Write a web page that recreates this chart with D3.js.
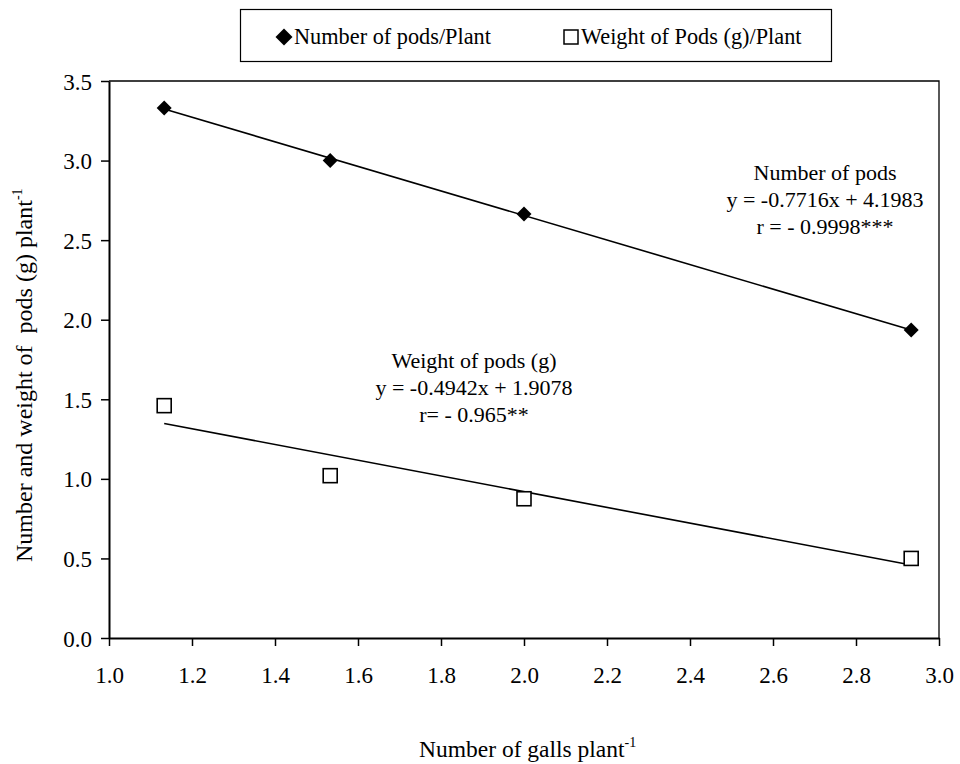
<!DOCTYPE html>
<html>
<head>
<meta charset="utf-8">
<script src="https://cdn.jsdelivr.net/npm/d3@7"></script>
<style>
  body { margin: 0; background: #fff; }
  svg text { font-family: 'Liberation Serif', 'Times New Roman', Times, serif; }
</style>
</head>
<body>
<svg id="chart" width="960" height="764"></svg>
<script>
// Dades
const galls = [1.133, 1.533, 2.0, 2.933];
const podsNumber = [3.33, 3.0, 2.665, 1.935];
const podsWeight = [1.46, 1.02, 0.875, 0.50];
const xTicks = [1.0, 1.2, 1.4, 1.6, 1.8, 2.0, 2.2, 2.4, 2.6, 2.8, 3.0];
const yTicks = [0.0, 0.5, 1.0, 1.5, 2.0, 2.5, 3.0, 3.5];
const fitNumber = [-0.7716, 4.1983];
const fitWeight = [-0.4942, 1.9078];
const labelNumber = ["Number of pods", "y = -0.7716x + 4.1983", "r = - 0.9998***"];
const labelWeight = ["Weight of pods (g)", "y = -0.4942x + 1.9078", "r= - 0.965**"];

const FONT = "'Liberation Serif', 'Times New Roman', serif";

const margin = { top: 81, right: 21, bottom: 126, left: 109 },
      width = 960 - margin.left - margin.right,
      height = 764 - margin.top - margin.bottom;

const svg = d3.select("#chart")
    .attr("font-family", FONT)
    .append("g")
    .attr("transform", `translate(${margin.left},${margin.top})`);

// Escales
const x = d3.scaleLinear().domain([1.0, 3.0]).range([0, width]);
const y = d3.scaleLinear().domain([0, 3.5]).range([height, 0]);

// Vora superior i dreta
svg.append("path")
    .attr("d", `M0,0H${width}V${height}`)
    .attr("fill", "none")
    .attr("stroke", "#000")
    .attr("stroke-width", 1.3);

// Eixos
const gx = svg.append("g")
    .attr("transform", `translate(0,${height})`)
    .call(d3.axisBottom(x).tickValues(xTicks).tickFormat(d3.format(".1f")).tickSize(8).tickSizeOuter(0));
const gy = svg.append("g")
    .call(d3.axisLeft(y).tickValues(yTicks).tickFormat(d3.format(".1f")).tickSize(8).tickSizeOuter(0));

[gx, gy].forEach(g => {
    g.attr("font-family", FONT).attr("font-size", 23);
    g.select(".domain").attr("stroke-width", 2);
    g.selectAll(".tick line").attr("stroke-width", 1.5);
    g.selectAll("text").attr("fill", "#000");
});
gx.selectAll("text").attr("y", 45).attr("dy", 0);
gy.selectAll("text").attr("x", -17).attr("dy", "0.35em");

// Rectes de regressio
const line = d3.line().x(d => x(d[0])).y(d => y(d[1]));
[fitNumber, fitWeight].forEach(f => {
    const ends = [d3.min(galls), d3.max(galls)].map(g => [g, f[0] * g + f[1]]);
    svg.append("path")
        .attr("d", line(ends))
        .attr("fill", "none")
        .attr("stroke", "#000")
        .attr("stroke-width", 1.6);
});

// Punts
svg.selectAll(".diamond")
    .data(galls)
    .enter()
    .append("path")
    .attr("class", "diamond")
    .attr("transform", (d, i) => `translate(${x(d)},${y(podsNumber[i])})`)
    .attr("d", "M0,-7.5L7.5,0L0,7.5L-7.5,0Z")
    .attr("fill", "#000");

svg.selectAll(".square")
    .data(galls)
    .enter()
    .append("rect")
    .attr("class", "square")
    .attr("x", d => x(d) - 7)
    .attr("y", (d, i) => y(podsWeight[i]) - 7)
    .attr("width", 14)
    .attr("height", 14)
    .attr("fill", "#fff")
    .attr("stroke", "#000")
    .attr("stroke-width", 1.6);

// Etiquetes de les equacions
function eqLabel(lines, cx, top) {
    svg.append("text")
        .attr("text-anchor", "middle")
        .attr("font-size", "22px")
        .selectAll("tspan")
        .data(lines)
        .enter()
        .append("tspan")
        .attr("x", cx)
        .attr("y", (d, i) => top + i * 27)
        .text(d => d);
}
eqLabel(labelNumber, 825 - margin.left, 180 - margin.top);
eqLabel(labelWeight, 474 - margin.left, 368 - margin.top);

// Titol eix Y
const yt = svg.append("text")
    .attr("transform", `translate(${32 - margin.left},${562 - margin.top}) rotate(-90)`)
    .attr("text-anchor", "start")
    .attr("xml:space", "preserve")
    .attr("font-size", "24px");
yt.append("tspan").text("Number and weight of  pods (g) plant");
yt.append("tspan").attr("font-size", "14px").attr("dy", "-10").text("-1");

// Titol eix X
const xt = svg.append("text")
    .attr("x", 419 - margin.left)
    .attr("y", 757 - margin.top)
    .attr("text-anchor", "start")
    .attr("font-size", "23.5px");
xt.append("tspan").text("Number of galls plant");
xt.append("tspan").attr("font-size", "14px").attr("dy", "-10").text("-1");

// Llegenda
const leg = d3.select("#chart").append("g");
leg.append("rect")
    .attr("x", 240.5).attr("y", 9.5)
    .attr("width", 591).attr("height", 52)
    .attr("fill", "#fff")
    .attr("stroke", "#000")
    .attr("stroke-width", 1.2);
leg.append("path")
    .attr("transform", "translate(284,37)")
    .attr("d", "M0,-8.5L8.5,0L0,8.5L-8.5,0Z")
    .attr("fill", "#000");
leg.append("text")
    .attr("x", 294).attr("y", 44)
    .attr("font-size", "22.3px")
    .text("Number of pods/Plant");
leg.append("rect")
    .attr("x", 564).attr("y", 30)
    .attr("width", 14).attr("height", 14)
    .attr("fill", "#fff")
    .attr("stroke", "#000")
    .attr("stroke-width", 1.5);
leg.append("text")
    .attr("x", 581).attr("y", 44)
    .attr("font-size", "22.3px")
    .text("Weight of Pods (g)/Plant");
</script>
</body>
</html>
